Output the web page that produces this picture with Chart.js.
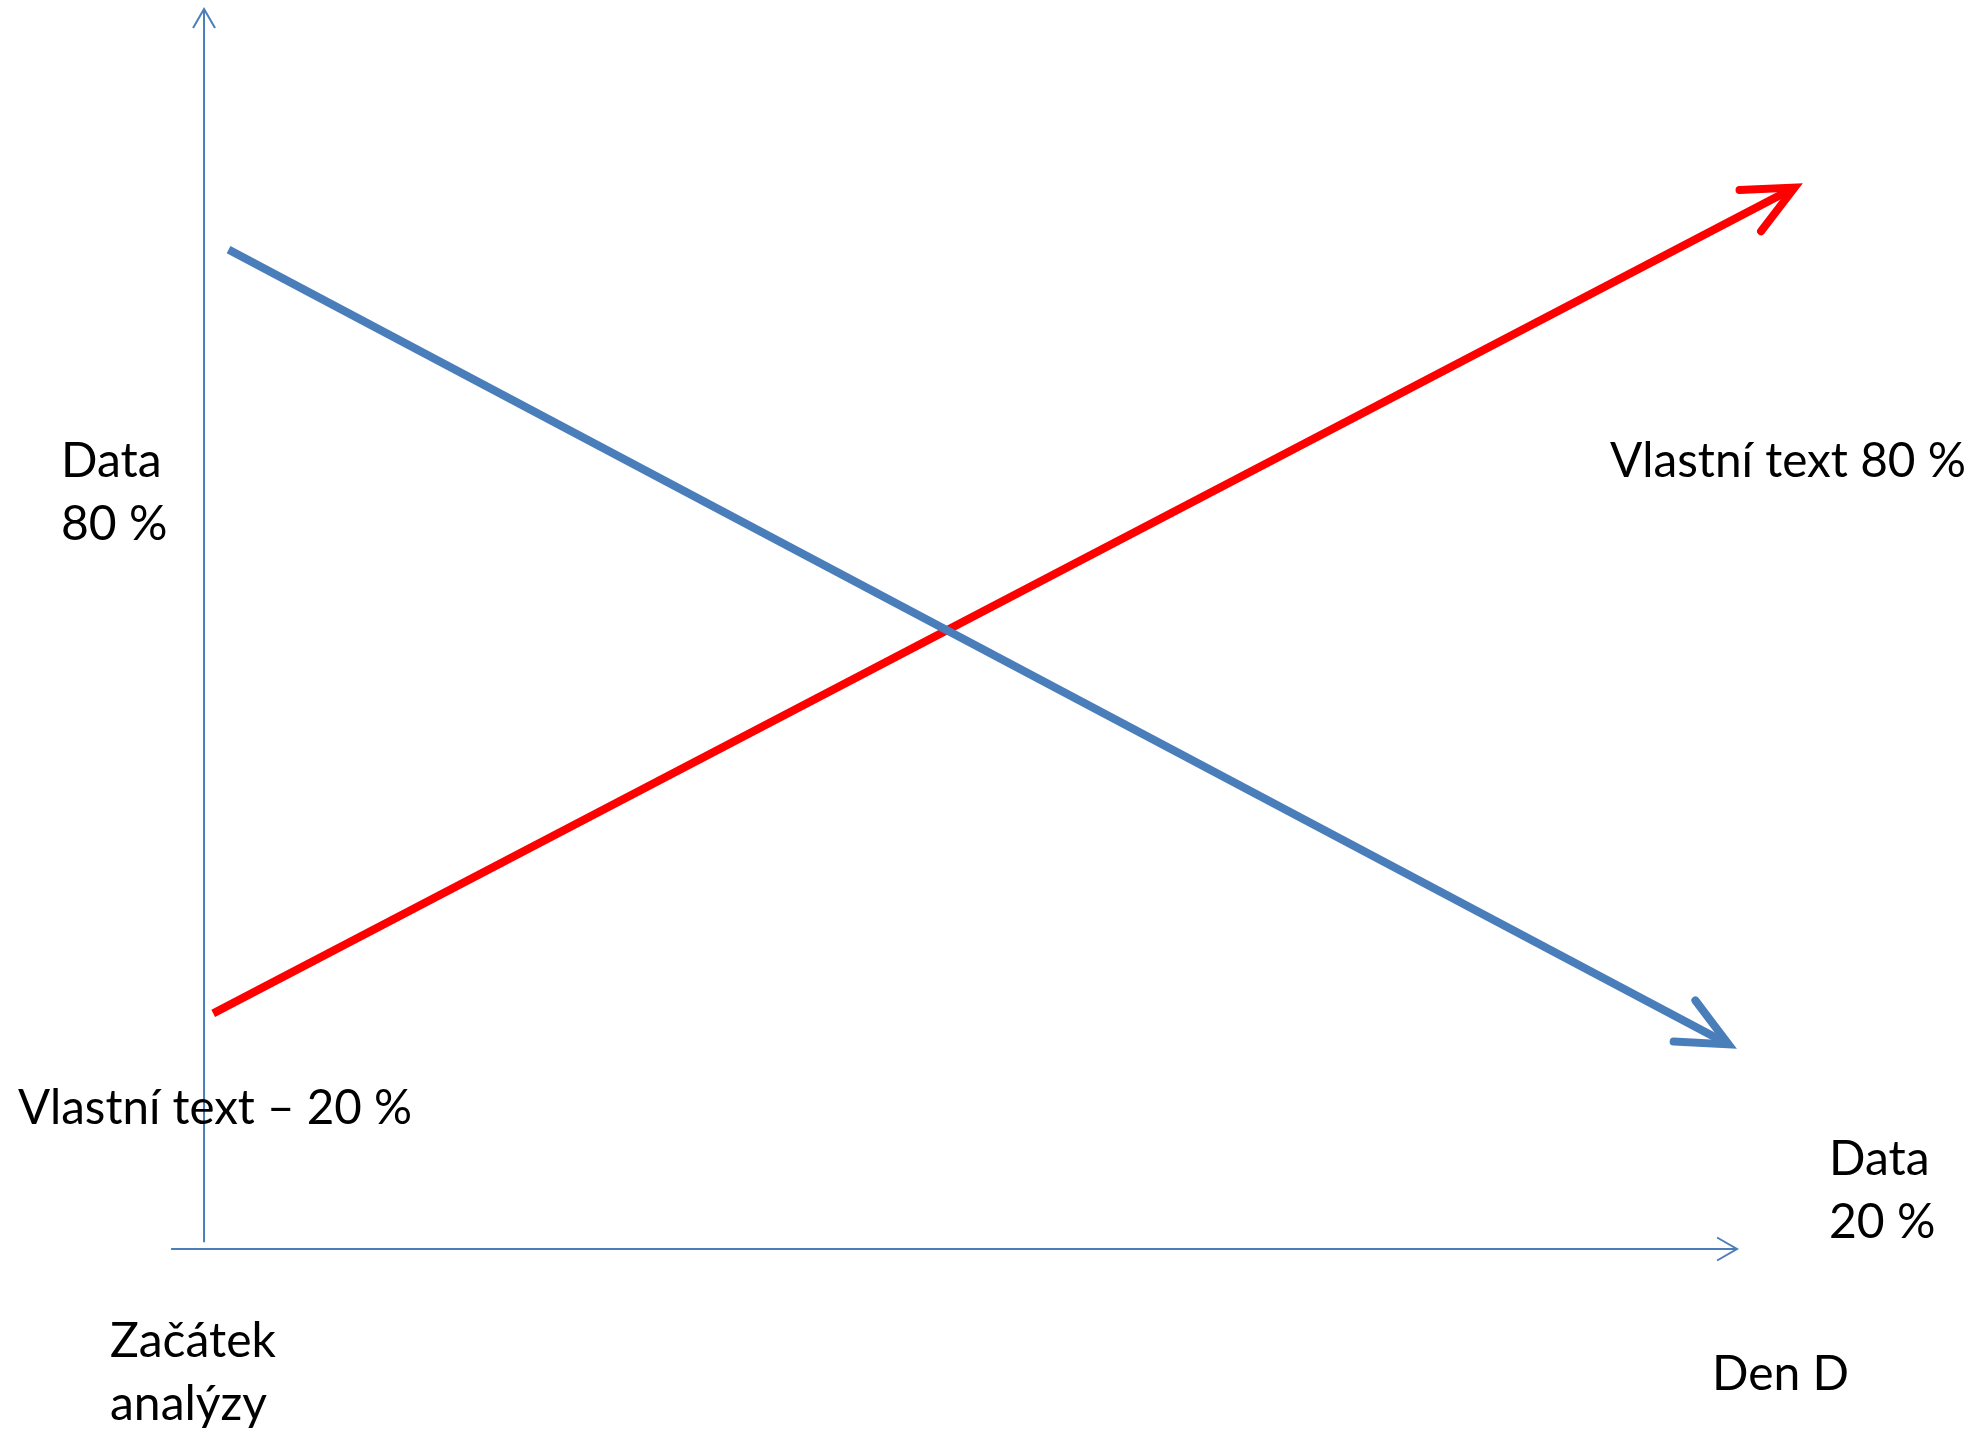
<!DOCTYPE html>
<html>
<head>
<meta charset="utf-8">
<script src="https://cdn.jsdelivr.net/npm/chart.js@4.4.1/dist/chart.umd.min.js"></script>
<style>
  html, body { margin: 0; padding: 0; background: #fff; }
  #wrap { width: 1970px; height: 1434px; position: relative; }
</style>
</head>
<body>
<div id="wrap"><canvas id="diagram"></canvas></div>
<script>
// values (x: 0 = start of analysis, 100 = day D; y: 0-100 %)
const seriesNames = ['Data', 'Vlastní text'];
const dataX = [1.6, 99.45];
const dataY = [80.6, 16.5];
const ownX = [0.6, 103.75];
const ownY = [19.0, 85.6];

// axis extents in value units
const xAxisFrom = -2.15, xAxisTo = 100;
const yAxisFrom = 0.55, yAxisTo = 100;

const blue = '#4A7EBB';
const red = '#FF0000';
const fontFamily = 'Lato, "Open Sans", sans-serif';

// free text on the slide
const notes = [
  { lines: ['Data', '80 %'], x: 61, y: 477, w: [null, null] },
  { lines: ['Vlastní text 80 %'], x: 1610, y: 477, w: [356] },
  { lines: ['Vlastní text – 20 %'], x: 18, y: 1124, w: [394] },
  { lines: ['Data', '20 %'], x: 1829, y: 1175, w: [null, null] },
  { lines: ['Začátek', 'analýzy'], x: 110, y: 1357, w: [null, null] },
  { lines: ['Den D'], x: 1712, y: 1390, w: [null] }
];
const lineGap = 63;

function toPairs(xs, ys) {
  return xs.map((x, i) => ({ x: x, y: ys[i] }));
}

function openHead(ctx, tx, ty, angle, len, spread) {
  ctx.beginPath();
  ctx.moveTo(tx - len * Math.cos(angle - spread), ty - len * Math.sin(angle - spread));
  ctx.lineTo(tx, ty);
  ctx.lineTo(tx - len * Math.cos(angle + spread), ty - len * Math.sin(angle + spread));
  ctx.stroke();
}

const axesPlugin = {
  id: 'axes',
  beforeDatasetsDraw(chart) {
    const { ctx, scales } = chart;
    const x = scales.x, y = scales.y;
    const ox = x.getPixelForValue(0), oy = y.getPixelForValue(0);
    ctx.save();
    ctx.strokeStyle = blue;
    ctx.lineWidth = 2;
    ctx.lineCap = 'butt';
    // y axis
    const yTop = y.getPixelForValue(yAxisTo);
    ctx.beginPath();
    ctx.moveTo(ox, y.getPixelForValue(yAxisFrom));
    ctx.lineTo(ox, yTop);
    ctx.stroke();
    openHead(ctx, ox, yTop, -Math.PI / 2, 22, Math.PI / 6);
    // x axis
    const xEnd = x.getPixelForValue(xAxisTo);
    ctx.beginPath();
    ctx.moveTo(x.getPixelForValue(xAxisFrom), oy);
    ctx.lineTo(xEnd, oy);
    ctx.stroke();
    openHead(ctx, xEnd, oy, 0, 23, Math.PI / 6);
    ctx.restore();
  }
};

const arrowPlugin = {
  id: 'arrowHeads',
  afterDatasetsDraw(chart) {
    const ctx = chart.ctx;
    chart.data.datasets.forEach((ds, i) => {
      const pts = chart.getDatasetMeta(i).data;
      const a = pts[pts.length - 2], b = pts[pts.length - 1];
      const ang = Math.atan2(b.y - a.y, b.x - a.x);
      ctx.save();
      ctx.strokeStyle = ds.borderColor;
      ctx.lineWidth = 8;
      ctx.lineCap = 'round';
      ctx.lineJoin = 'miter';
      ctx.miterLimit = 10;
      openHead(ctx, b.x, b.y, ang, 55, 25 * Math.PI / 180);
      ctx.restore();
    });
  }
};

const textPlugin = {
  id: 'notes',
  afterDraw(chart) {
    const ctx = chart.ctx;
    ctx.save();
    ctx.fillStyle = '#000';
    ctx.font = '48px ' + fontFamily;
    ctx.textAlign = 'left';
    ctx.textBaseline = 'alphabetic';
    notes.forEach(n => {
      n.lines.forEach((t, k) => {
        const w = n.w[k];
        if (w) ctx.fillText(t, n.x, n.y + k * lineGap, w);
        else ctx.fillText(t, n.x, n.y + k * lineGap);
      });
    });
    ctx.restore();
  }
};

new Chart(document.getElementById('diagram'), {
  type: 'line',
  data: {
    datasets: [
      {
        label: seriesNames[0],
        data: toPairs(dataX, dataY),
        borderColor: blue,
        borderWidth: 8,
        borderCapStyle: 'butt',
        pointRadius: 0,
        tension: 0
      },
      {
        label: seriesNames[1],
        data: toPairs(ownX, ownY),
        borderColor: red,
        borderWidth: 8,
        borderCapStyle: 'butt',
        pointRadius: 0,
        tension: 0
      }
    ]
  },
  options: {
    responsive: true,
    maintainAspectRatio: false,
    animation: false,
    layout: { padding: 0 },
    plugins: {
      legend: { display: false },
      tooltip: { enabled: false }
    },
    scales: {
      x: { type: 'linear', display: false, min: -13.31, max: 115.2 },
      y: { type: 'linear', display: false, min: -14.92, max: 100.73 }
    }
  },
  plugins: [axesPlugin, arrowPlugin, textPlugin]
});
</script>
</body>
</html>
